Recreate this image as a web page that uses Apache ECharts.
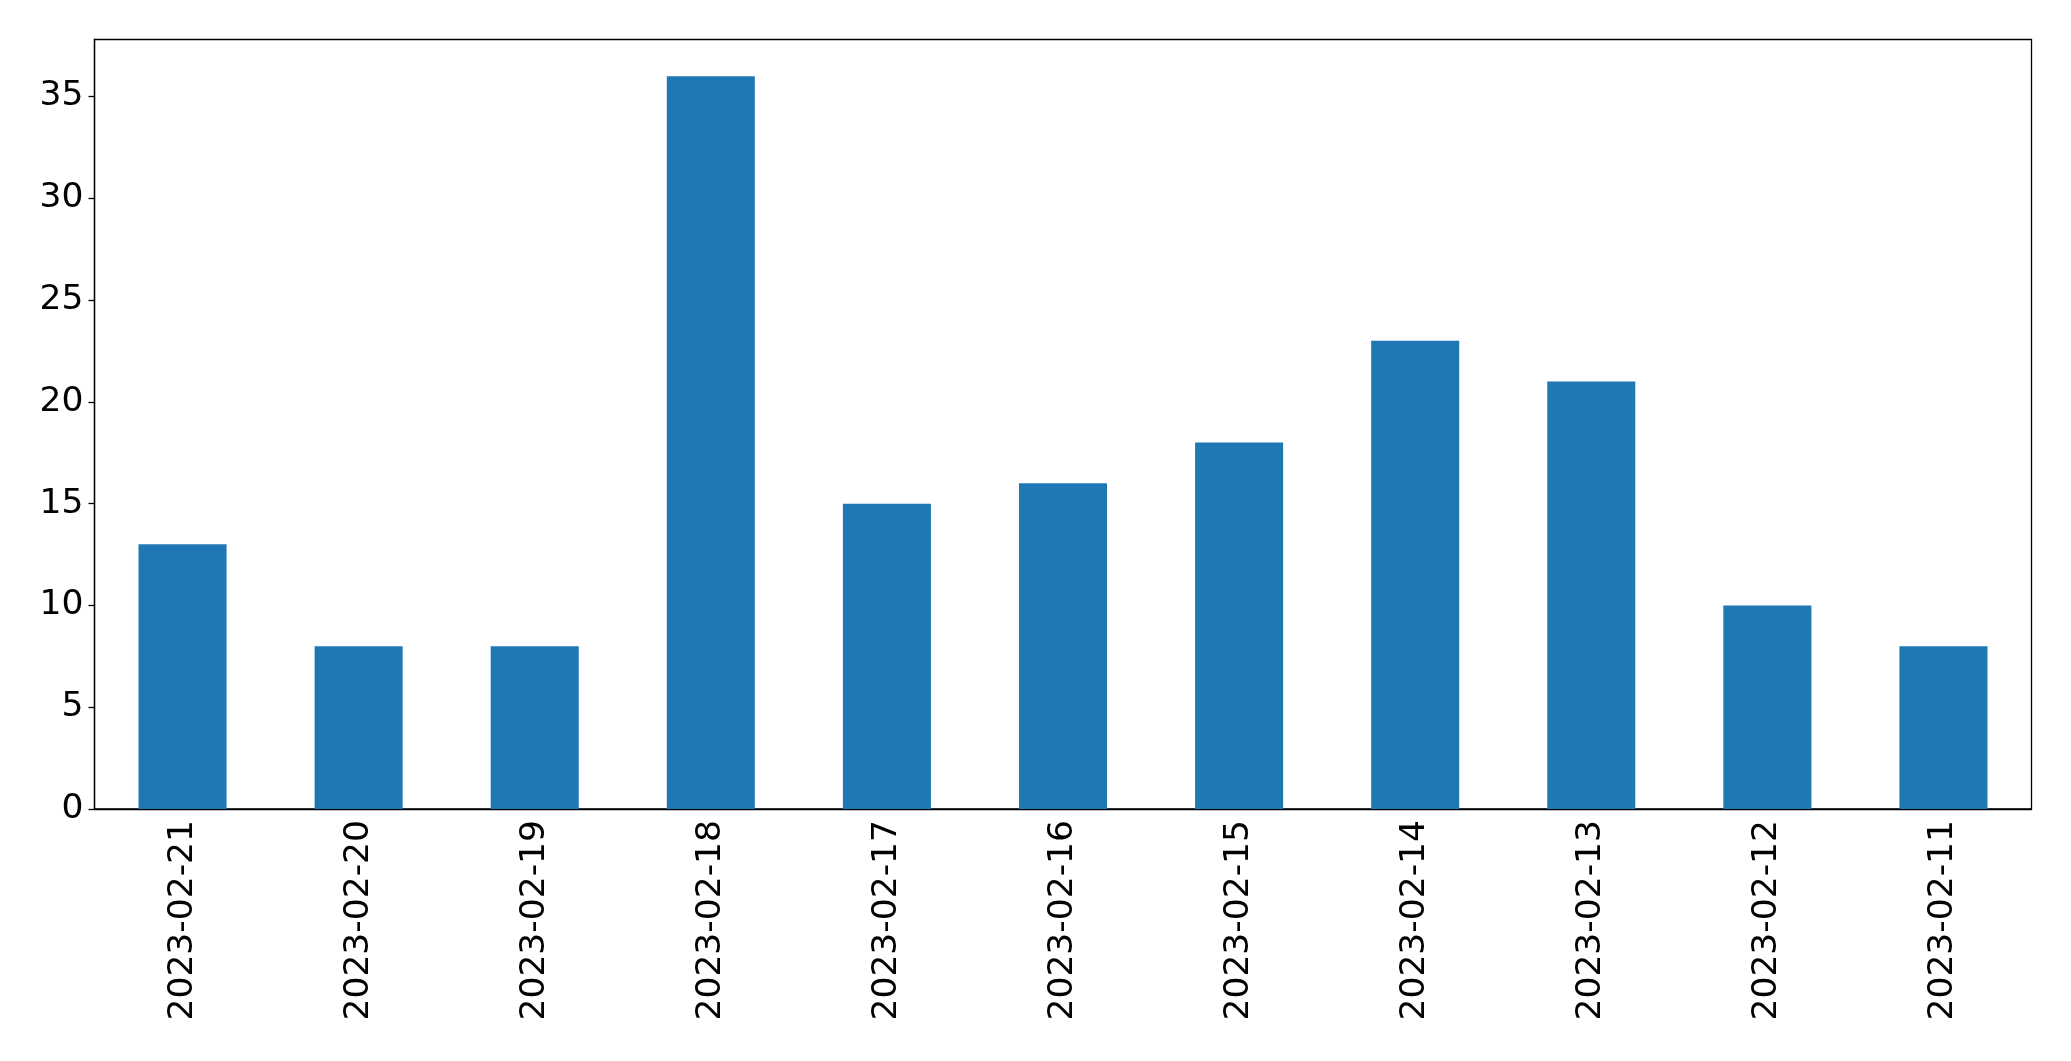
<!DOCTYPE html>
<html><head><meta charset="utf-8">
<script src="https://cdn.jsdelivr.net/npm/echarts@6/dist/echarts.min.js"></script>
<style>html,body{margin:0;padding:0;background:#fff}#c{width:2071px;height:1061px}</style>
</head><body><div id="c"></div>
<script>
const categories = ['2023-02-21','2023-02-20','2023-02-19','2023-02-18','2023-02-17','2023-02-16','2023-02-15','2023-02-14','2023-02-13','2023-02-12','2023-02-11'];
const values = [13, 8, 8, 36, 15, 16, 18, 23, 21, 10, 8];
const yTicks = [0, 5, 10, 15, 20, 25, 30, 35];

const font = 'DejaVu Sans';
const chart = echarts.init(document.getElementById('c'), null, {renderer: 'canvas'});
chart.setOption({
  animation: false,
  backgroundColor: '#fff',
  grid: {left: 94.5, right: 39.5, top: 39.5, bottom: 252,
    show: true, borderColor: '#000', borderWidth: 1.3, backgroundColor: 'transparent'},
  xAxis: {
    type: 'category', data: categories,
    axisLine: {lineStyle: {color: '#000', width: 1.3}},
    axisTick: {alignWithLabel: true, length: 6, lineStyle: {color: '#000', width: 1.3}},
    axisLabel: {rotate: 90, color: '#000', fontSize: 34.5, fontFamily: font, margin: 11},
    splitLine: {show: false}
  },
  yAxis: {
    type: 'value', min: 0, max: 37.8, interval: 5,
    axisLine: {show: true, lineStyle: {color: '#000', width: 1.3}},
    axisTick: {show: true, length: 6, customValues: yTicks, lineStyle: {color: '#000', width: 1.3}},
    axisLabel: {color: '#000', fontSize: 34.5, fontFamily: font, margin: 11, customValues: yTicks},
    splitLine: {show: false}
  },
  series: [{
    type: 'bar', data: values, barWidth: '50%',
    itemStyle: {color: '#1f77b4'}
  }]
});
</script></body></html>
